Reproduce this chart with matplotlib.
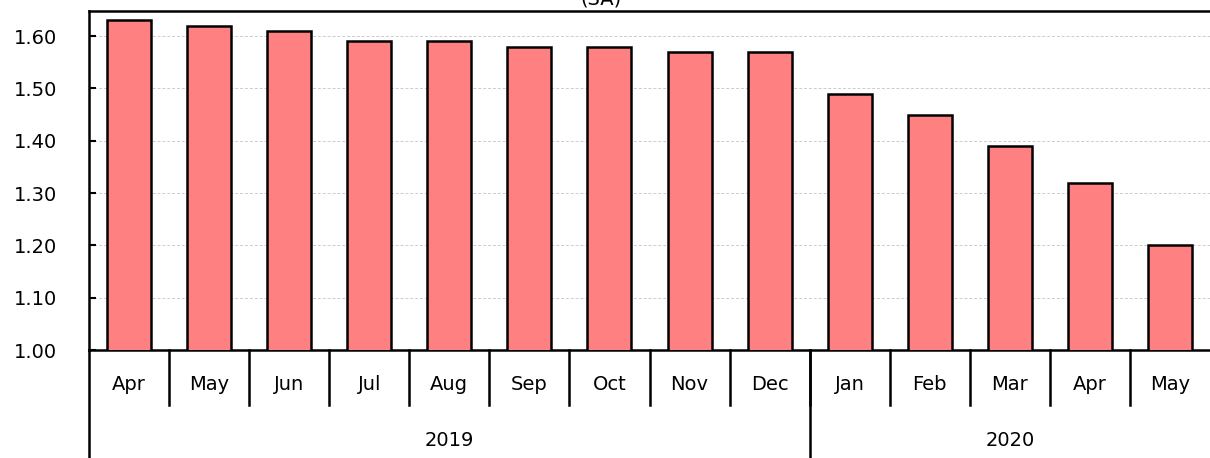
import matplotlib.pyplot as plt
from matplotlib.transforms import blended_transform_factory

months = ["Apr", "May", "Jun", "Jul", "Aug", "Sep", "Oct", "Nov", "Dec",
          "Jan", "Feb", "Mar", "Apr", "May"]
values = [1.63, 1.62, 1.61, 1.59, 1.59, 1.58, 1.58, 1.57, 1.57,
          1.49, 1.45, 1.39, 1.32, 1.20]
years = ["2019", "2020"]
year_counts = [9, 5]

FS = 14
W, H = 1210, 458
fig = plt.figure(figsize=(W / 100, H / 100), dpi=100)
ax = fig.add_axes([89 / W, (H - 350) / H, (1210 - 89) / W, (350 - 11) / H])

x = range(len(values))
ax.bar(x, values, width=0.55, color="#FF8080", edgecolor="black", linewidth=1.8, zorder=3)

ax.set_xlim(-0.5, len(values) - 0.5)
ax.set_ylim(1.0, 1.648)
ax.set_yticks([1.0, 1.1, 1.2, 1.3, 1.4, 1.5, 1.6])
ax.set_yticklabels(["%.2f" % v for v in ax.get_yticks()], fontsize=FS)
ax.tick_params(axis="y", direction="in", length=5, width=1.5, pad=23)
ax.set_xticks([])
ax.grid(axis="y", color="#cccccc", linestyle=(0, (3, 2)), linewidth=0.7, zorder=0)
ax.spines["right"].set_visible(False)
for s in ax.spines.values():
    s.set_linewidth(1.8)

# two-level category axis
tr = blended_transform_factory(ax.transData, ax.transAxes)
ax_h = 350 - 11
for i, m in enumerate(months):
    ax.text(i, -35 / ax_h, m, transform=tr, ha="center", va="center", fontsize=FS)
    if i < len(months) - 1:
        ax.plot([i + 0.5, i + 0.5], [0, -55 / ax_h], transform=tr, color="black",
                lw=1.8, clip_on=False)

start = 0
for yr, n in zip(years, year_counts):
    ax.text(start + n / 2 - 0.5, -91 / ax_h, yr, transform=tr, ha="center",
            va="center", fontsize=FS)
    ax.plot([start - 0.5, start - 0.5], [0, -120 / ax_h], transform=tr, color="black",
            lw=1.8, clip_on=False)
    start += n

fig.text(0.497, 1.002, "(SA)", ha="center", va="center", fontsize=FS)

fig.savefig("out.png", dpi=100)
